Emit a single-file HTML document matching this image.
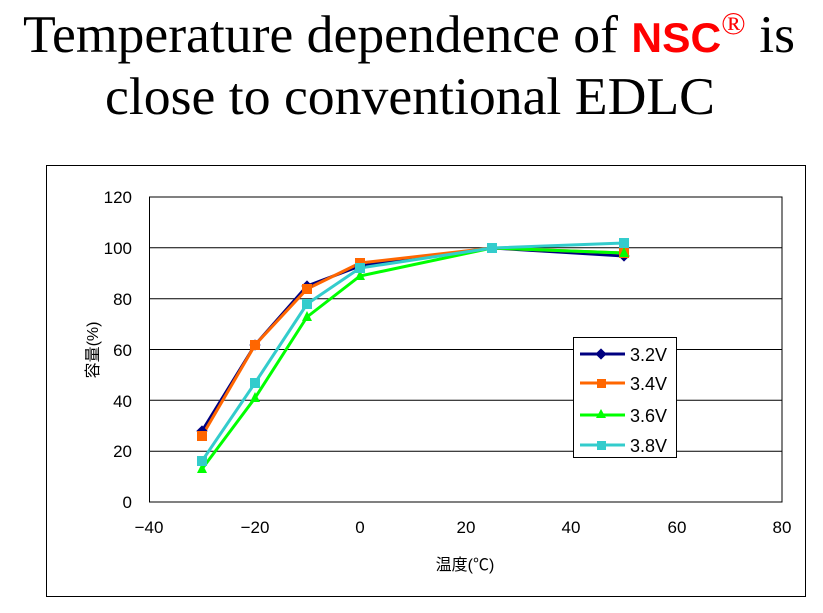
<!DOCTYPE html>
<html><head><meta charset="utf-8"><style>
body{margin:0;background:#fff;width:823px;height:608px;overflow:hidden}
</style></head><body>
<svg width="823" height="608" xmlns="http://www.w3.org/2000/svg" font-family="Liberation Sans, sans-serif">
<text x="409" y="52" text-anchor="middle" font-family="Liberation Serif, serif" font-size="53" textLength="772" lengthAdjust="spacingAndGlyphs">Temperature dependence of <tspan fill="#f00" font-family="Liberation Sans, sans-serif" font-weight="bold" font-size="42">NSC</tspan><tspan fill="#f00" font-size="32" dy="-18">®</tspan><tspan dy="18"> is</tspan></text>
<text x="410" y="114" text-anchor="middle" font-family="Liberation Serif, serif" font-size="53" textLength="610" lengthAdjust="spacingAndGlyphs">close to conventional EDLC</text>
<rect x="46.5" y="165.5" width="759" height="431" fill="#fff" stroke="#000"/>
<g stroke="#000" stroke-width="1">
<line x1="149" y1="247.8" x2="782" y2="247.8"/>
<line x1="149" y1="298.7" x2="782" y2="298.7"/>
<line x1="149" y1="349.5" x2="782" y2="349.5"/>
<line x1="149" y1="400.3" x2="782" y2="400.3"/>
<line x1="149" y1="451.2" x2="782" y2="451.2"/>
<rect x="149.5" y="197" width="632.5" height="305" fill="none"/>
</g>
<g font-size="17" text-anchor="end">
<text x="132" y="203">120</text><text x="132" y="254">100</text><text x="132" y="305">80</text>
<text x="132" y="356">60</text><text x="132" y="407">40</text><text x="132" y="457">20</text><text x="132" y="508">0</text>
</g>
<g font-size="17" text-anchor="middle">
<text x="149" y="533">−40</text><text x="255" y="533">−20</text><text x="360" y="533">0</text>
<text x="466" y="533">20</text><text x="571" y="533">40</text><text x="677" y="533">60</text><text x="782" y="533">80</text>
</g>
<text x="465" y="570" text-anchor="middle" font-size="16" font-family="Liberation Sans, Noto Sans CJK JP, sans-serif">温度(℃)</text>
<text transform="translate(98,350) rotate(-90)" text-anchor="middle" font-size="16" font-family="Liberation Sans, Noto Sans CJK JP, sans-serif">容量(%)</text>
<g fill="none" stroke-width="3">
<polyline stroke="#000080" points="202,431 255,345 307,286 360,266 492,248 624,256"/>
<polyline stroke="#ff6600" points="202,436 255,345 307,289 360,263 492,248 624,253"/>
<polyline stroke="#00ff00" points="202,469 255,398 307,317 360,276 492,248 624,253"/>
<polyline stroke="#33cccc" points="202,461 255,383 307,304 360,268 492,248 624,243"/>
</g>
<g fill="#000080"><g transform="translate(202,431) rotate(45)"><rect x="-4" y="-4" width="8" height="8"/></g><g transform="translate(255,345) rotate(45)"><rect x="-4" y="-4" width="8" height="8"/></g><g transform="translate(307,286) rotate(45)"><rect x="-4" y="-4" width="8" height="8"/></g><g transform="translate(360,266) rotate(45)"><rect x="-4" y="-4" width="8" height="8"/></g><g transform="translate(624,256) rotate(45)"><rect x="-4" y="-4" width="8" height="8"/></g></g>
<g fill="#ff6600"><rect x="197" y="431" width="10" height="10"/><rect x="250" y="340" width="10" height="10"/><rect x="302" y="284" width="10" height="10"/><rect x="355" y="258" width="10" height="10"/><rect x="619" y="248" width="10" height="10"/></g>
<g fill="#00ff00"><polygon points="202,463 197,473 207,473"/><polygon points="255,392 250,402 260,402"/><polygon points="307,311 302,321 312,321"/><polygon points="360,270 355,280 365,280"/><polygon points="487,252 497,252 492,243"/><polygon points="624,247 619,257 629,257"/></g>
<g fill="#33cccc"><rect x="197" y="456" width="10" height="10"/><rect x="250" y="378" width="10" height="10"/><rect x="302" y="299" width="10" height="10"/><rect x="355" y="263" width="10" height="10"/><rect x="487" y="243" width="10" height="10"/><rect x="619" y="238" width="10" height="10"/></g>
<rect x="573.5" y="337.5" width="103" height="120" fill="#fff" stroke="#000"/>
<g stroke-width="3"><line x1="580" y1="354" x2="625" y2="354" stroke="#000080"/><line x1="580" y1="383" x2="625" y2="383" stroke="#ff6600"/><line x1="580" y1="415" x2="625" y2="415" stroke="#00ff00"/><line x1="580" y1="445" x2="625" y2="445" stroke="#33cccc"/></g>
<g transform="translate(601,354) rotate(45)"><rect x="-4" y="-4" width="8" height="8" fill="#000080"/></g>
<rect x="597" y="379" width="9" height="9" fill="#ff6600"/>
<polygon points="601,409 596,418 606,418" fill="#00ff00"/>
<rect x="597" y="441" width="9" height="9" fill="#33cccc"/>
<g font-size="18"><text x="630" y="361">3.2V</text><text x="630" y="390">3.4V</text><text x="630" y="422">3.6V</text><text x="630" y="452">3.8V</text></g>
</svg>
</body></html>
